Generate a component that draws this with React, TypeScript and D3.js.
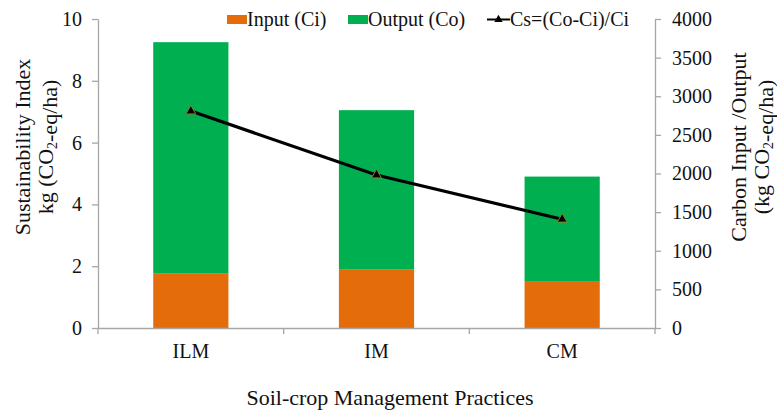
import React, { useRef, useEffect } from 'react';
import * as d3 from 'd3';

// categories and values
const practices = ['ILM', 'IM', 'CM'];
const carbonInput = [710, 755, 608]; // Ci, kg CO2-eq/ha (right axis)
const carbonOutput = [2990, 2065, 1352]; // Co stacked on top of Ci (right axis)
const sustainability = [7.02, 4.95, 3.52]; // Cs (left axis)
const leftTicks = [0, 2, 4, 6, 8, 10];
const rightTicks = [0, 500, 1000, 1500, 2000, 2500, 3000, 3500, 4000];

const ORANGE = '#E46C0A';
const GREEN = '#00B050';
const AXIS = '#A6A6A6';
const FONT = '"Liberation Serif", "Times New Roman", serif';

const App = () => {
  const svgRef = useRef<SVGSVGElement>(null);

  useEffect(() => {
    const svg = d3.select(svgRef.current);
    svg.selectAll('*').remove();

    const W = 777, H = 412;
    const margin = { top: 19, right: 122, bottom: 84, left: 98 };
    const innerW = W - margin.left - margin.right;
    const innerH = H - margin.top - margin.bottom;

    const g = svg.append('g').attr('transform', `translate(${margin.left},${margin.top})`);

    const x = d3.scaleBand().domain(practices).range([0, innerW]).padding(0);
    const barW = x.bandwidth() * 0.405;
    const yLeft = d3.scaleLinear().domain([0, 10]).range([innerH, 0]);
    const yRight = d3.scaleLinear().domain([0, 4000]).range([innerH, 0]);

    // --- stacked bars ---
    const rows = practices.map((p, i) => ({ p, ci: carbonInput[i], co: carbonOutput[i] }));
    const stacked = d3.stack<any>().keys(['ci', 'co'])(rows);
    const colors = [ORANGE, GREEN];
    stacked.forEach((layer, li) => {
      g.append('g')
        .selectAll('rect')
        .data(layer)
        .enter().append('rect')
        .attr('x', d => (x(d.data.p) as number) + (x.bandwidth() - barW) / 2)
        .attr('width', barW)
        .attr('y', d => yRight(d[1]))
        .attr('height', d => yRight(d[0]) - yRight(d[1]))
        .attr('fill', colors[li]);
    });

    // --- axes ---
    const styleAxis = (sel: any) => {
      sel.select('.domain').attr('stroke', AXIS).attr('stroke-width', 1.3);
      sel.selectAll('.tick line').attr('stroke', AXIS).attr('stroke-width', 1.3);
      sel.selectAll('.tick text').attr('fill', '#111').style('font-family', FONT).style('font-size', '20px');
    };

    g.append('g')
      .call(d3.axisLeft(yLeft).tickValues(leftTicks).tickSize(6).tickSizeOuter(0).tickPadding(10))
      .call(styleAxis);

    g.append('g')
      .attr('transform', `translate(${innerW},0)`)
      .call(d3.axisRight(yRight).tickValues(rightTicks).tickFormat(d3.format('d')).tickSize(6).tickSizeOuter(0).tickPadding(11))
      .call(styleAxis);

    const xAxis = g.append('g')
      .attr('transform', `translate(0,${innerH})`)
      .call(d3.axisBottom(x).tickSize(0).tickPadding(16))
      .call(styleAxis);
    // category boundary ticks
    xAxis.selectAll('.bound')
      .data(d3.range(practices.length + 1))
      .enter().append('line')
      .attr('x1', i => i * x.step()).attr('x2', i => i * x.step())
      .attr('y1', 0).attr('y2', 6)
      .attr('stroke', AXIS).attr('stroke-width', 1.3);

    // --- sustainability line ---
    const line = d3.line<number>()
      .x((d, i) => (x(practices[i]) as number) + x.bandwidth() / 2)
      .y(d => yLeft(d));
    g.append('path')
      .datum(sustainability)
      .attr('d', line)
      .attr('fill', 'none')
      .attr('stroke', '#000')
      .attr('stroke-width', 3.2);
    const tri = d3.symbol().type(d3.symbolTriangle).size(42);
    g.selectAll('.marker')
      .data(sustainability)
      .enter().append('path')
      .attr('transform', (d, i) => `translate(${(x(practices[i]) as number) + x.bandwidth() / 2},${yLeft(d)})`)
      .attr('d', tri)
      .attr('fill', '#000')
      .attr('stroke', '#8a7a2a')
      .attr('stroke-width', 1);

    // --- axis titles ---
    const title = (tx: number, ty: number, lines: Array<Array<[string, boolean]>>) => {
      const t = svg.append('text')
        .attr('transform', `translate(${tx},${ty}) rotate(-90)`)
        .attr('text-anchor', 'middle')
        .style('font-family', FONT)
        .style('font-size', '22px')
        .attr('fill', '#111');
      lines.forEach((parts, li) => {
        const row = t.append('tspan').attr('x', 0).attr('y', li * 23);
        parts.forEach(([txt, sub]) => {
          if (sub) {
            row.append('tspan').attr('dy', 4).style('font-size', '14px').text(txt);
            row.append('tspan').attr('dy', -4).text('');
          } else {
            row.append('tspan').text(txt);
          }
        });
      });
    };

    title(30, 147, [
      [['Sustainability Index', false]],
      [['kg (CO', false], ['2', true], ['-eq/ha)', false]],
    ]);
    title(746, 147, [
      [['Carbon Input /Output', false]],
      [['(kg CO', false], ['2', true], ['-eq/ha)', false]],
    ]);
    svg.append('text')
      .attr('x', 390)
      .attr('y', 405)
      .attr('text-anchor', 'middle')
      .style('font-family', FONT)
      .style('font-size', '22px')
      .attr('fill', '#111')
      .text('Soil-crop Management Practices');

    // --- legend ---
    const legend = svg.append('g').style('font-family', FONT).style('font-size', '20px');
    const legendItems = [
      { label: 'Input (Ci)', x: 227, kind: 'rect', color: ORANGE },
      { label: 'Output (Co)', x: 348, kind: 'rect', color: GREEN },
      { label: 'Cs=(Co-Ci)/Ci', x: 487, kind: 'line', color: '#000' },
    ];
    legendItems.forEach(item => {
      if (item.kind === 'rect') {
        legend.append('rect').attr('x', item.x).attr('y', 15).attr('width', 20).attr('height', 9).attr('fill', item.color);
      } else {
        legend.append('line').attr('x1', item.x).attr('x2', item.x + 23).attr('y1', 19.5).attr('y2', 19.5)
          .attr('stroke', '#000').attr('stroke-width', 2);
        legend.append('path').attr('transform', `translate(${item.x + 11.5},19.5)`)
          .attr('d', d3.symbol().type(d3.symbolTriangle).size(30)).attr('fill', '#000');
      }
      legend.append('text')
        .attr('x', item.x + (item.kind === 'rect' ? 20 : 23))
        .attr('y', 26)
        .attr('fill', '#111')
        .text(item.label);
    });
  }, []);

  return (
    <svg
      ref={svgRef}
      width={777}
      height={412}
      style={{ position: 'absolute', left: 0, top: 0, background: '#fff' }}
    />
  );
};

export default App;
